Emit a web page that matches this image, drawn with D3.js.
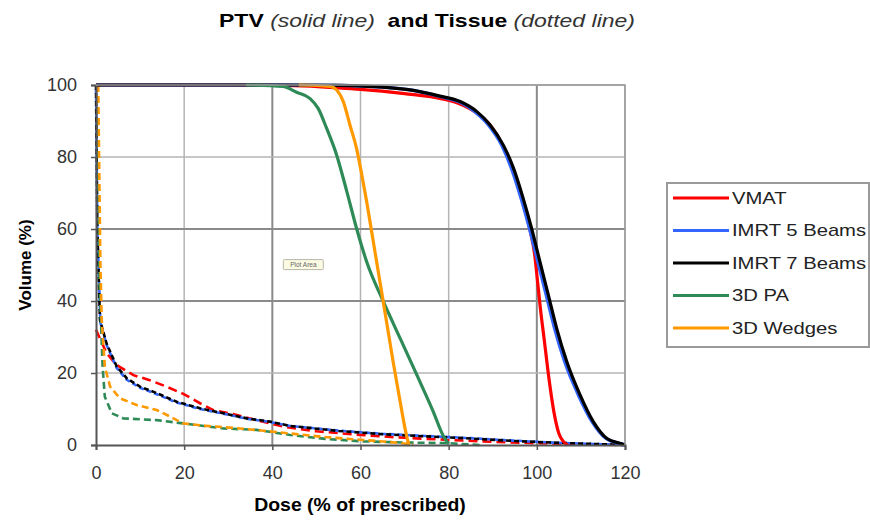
<!DOCTYPE html>
<html>
<head>
<meta charset="utf-8">
<script src="https://cdn.jsdelivr.net/npm/d3@7"></script>
<style>
  body { margin: 0; background: #fff; }
  #wrapper text { font-family: "Liberation Sans", Arial, sans-serif; }
</style>
</head>
<body>
<div id="wrapper"></div>
<script>
// data: [dose %, volume %]
const seriesNames = ["VMAT", "IMRT 5 Beams", "IMRT 7 Beams", "3D PA", "3D Wedges"]
const seriesColors = ["#ff0000", "#3366ff", "#000000", "#2e8b57", "#ff9900"]

// PTV (solid)
const vmatPtv = [[0,100],[30,100],[45,99.8],[55,99.2],[60,98.8],[70,97.6],[78,96.3],[82,95],[86,92.5],[89.4,88.9],[92.2,83.3],[94.5,77],[96.6,68.5],[98.4,60],[99.5,53],[100.2,45],[100.8,38],[101.7,29],[102.8,18],[103.9,9],[105,3.2],[106,1],[107,0]]
const imrt5Ptv = [[0,100],[45,100],[55,99.9],[65,99.4],[72,98.5],[78,96.8],[82.4,95.3],[86,92.5],[89,88.9],[92,83.3],[94.2,76.9],[96.4,68.5],[98.3,60.2],[100.2,50.9],[102.1,41.7],[104,32.4],[106.3,23.1],[109.4,13.9],[112.5,6.5],[115.7,1.8],[118.8,0.4],[120,0]]
const imrt7Ptv = [[0,100],[45,100],[55,99.9],[65,99.4],[72,98.5],[78,96.9],[82.6,95.4],[86.4,92.6],[89.4,88.9],[92.4,83.3],[94.7,76.9],[96.9,68.5],[98.8,60.2],[100.7,50.9],[102.6,41.7],[104.5,32.4],[106.8,23.1],[109.8,13.9],[112.8,6.5],[115.9,1.8],[119,0.4],[120,0]]
const paPtv = [[34,100],[42.4,99.6],[45.5,98],[48.5,96.3],[50.4,93.5],[52.3,88],[54.6,80.5],[56.9,70.4],[59.1,60.2],[61.4,50.9],[65.2,39.8],[69,29.6],[72.8,19.4],[76.5,9.3],[78.8,2.5],[80,0.3]]
const wedgesPtv = [[46,100],[53.1,99.6],[54.6,98.6],[56.1,95.4],[57.6,88.9],[59.1,82.4],[60.3,75],[61.4,67.6],[62.9,56.5],[64.4,45.4],[65.9,34.3],[67.4,23.1],[69,12],[70.1,4.6],[70.6,1.8],[71,0]]

// Tissue (dotted)
const vmatTissue = [[0,32],[2.4,25.5],[4.7,22.2],[8.5,19.4],[12.2,18],[16,16.2],[19.8,14.2],[23.6,11.6],[26.6,9.7],[31.1,8.6],[36.4,6.9],[42.5,5.1],[50,3.8],[60,2.8],[70,2],[80,1.4],[90,0.9],[100,0.5],[110,0.2],[120,0]]
const imrt5Tissue = [[0,100],[0.3,60],[1,34],[2.4,27.8],[4.7,21.4],[7,18.1],[10,15.9],[13.8,14.1],[18.3,11.8],[23.6,10],[28.9,8.7],[34.2,7.3],[39.5,6.4],[44,5.3],[55,4],[65,3.1],[75,2.5],[85,1.9],[95,1.2],[105,0.6],[115,0.2],[120,0]]
const imrt7Tissue = [[0,100],[0.3,60],[0.9,34.7],[2.4,28.2],[4.7,21.8],[7,18.5],[10,16.2],[13.8,14.4],[18.3,12],[23.6,10.2],[28.9,8.8],[34.2,7.4],[39.5,6.5],[44,5.3],[55,3.9],[65,3],[75,2.4],[85,1.8],[95,1.1],[105,0.6],[115,0.2],[120,0]]
const paTissue = [[0.3,100],[0.8,45],[1.5,21.8],[2,13.4],[3.6,8.8],[6.2,7.4],[13.8,6.9],[19.8,6],[28.9,4.6],[36.4,4.2],[44,2.8],[52,1.7],[60.6,1],[70,0.7],[80,0.5],[87,0]]
const wedgesTissue = [[0.5,100],[1,50],[1.3,34.7],[2,21.8],[3.2,16.2],[5.4,13],[9.2,11.1],[13.8,9.7],[16.8,7.9],[19.8,6],[25.1,5.3],[32.7,4.6],[40.2,3.7],[44,3.2],[52,2.2],[60.6,1.4],[66,0.9],[70,0.4],[72,0]]

const ptvData = [vmatPtv, imrt5Ptv, imrt7Ptv, paPtv, wedgesPtv]
const tissueData = [vmatTissue, imrt5Tissue, imrt7Tissue, paTissue, wedgesTissue]
const tissueDashes = ["9,5", "5,3", "5,3", "7,4", "7,4"]

const xTicks = [0, 20, 40, 60, 80, 100, 120]
const yTicks = [0, 20, 40, 60, 80, 100]

function drawChart() {

    // 1. Dimensions
    let dimensions = {
        width: 870,
        height: 520,
        margin: { top: 85, right: 245, bottom: 75, left: 96 },
    }
    dimensions.boundedWidth = dimensions.width - dimensions.margin.left - dimensions.margin.right
    dimensions.boundedHeight = dimensions.height - dimensions.margin.top - dimensions.margin.bottom

    const wrapper = d3.select("#wrapper")
        .append("svg")
        .attr("width", dimensions.width)
        .attr("height", dimensions.height)

    const bounds = wrapper.append("g")
        .attr("transform", `translate(${dimensions.margin.left},${dimensions.margin.top})`)

    // 2. Scales
    const xScale = d3.scaleLinear()
        .domain([0, 120])
        .range([0, dimensions.boundedWidth])
    const yScale = d3.scaleLinear()
        .domain([0, 100])
        .range([dimensions.boundedHeight, 0])

    // 3. Gridlines (the picture has some lines darker than others)
    const darkX = [40, 100], darkY = [40, 60]
    bounds.append("g").selectAll("line")
        .data(xTicks.slice(1))
        .join("line")
        .attr("x1", d => xScale(d)).attr("x2", d => xScale(d))
        .attr("y1", 0).attr("y2", dimensions.boundedHeight)
        .attr("stroke", d => darkX.includes(d) ? "#8a8a8a" : "#b4b4b4")
        .attr("stroke-width", d => darkX.includes(d) ? 2 : 1.5)
    bounds.append("g").selectAll("line")
        .data(yTicks.slice(1))
        .join("line")
        .attr("x1", 0).attr("x2", dimensions.boundedWidth)
        .attr("y1", d => yScale(d)).attr("y2", d => yScale(d))
        .attr("stroke", d => darkY.includes(d) ? "#8a8a8a" : "#b4b4b4")
        .attr("stroke-width", d => darkY.includes(d) ? 2 : 1.5)

    // "Plot Area" hover tag
    const tag = bounds.append("g")
        .attr("transform", `translate(${xScale(42.5)},${yScale(51.5)})`)
    tag.append("rect")
        .attr("width", 40).attr("height", 10)
        .attr("fill", "#fbfbe4").attr("stroke", "#b8b8a8").attr("rx", 1)
    tag.append("text")
        .attr("x", 20).attr("y", 7.5)
        .attr("text-anchor", "middle")
        .style("font-size", "6.5px").attr("fill", "#666")
        .text("Plot Area")

    // 4. Lines
    const lineGen = d3.line()
        .x(d => xScale(d[0]))
        .y(d => yScale(d[1]))

    const lines = bounds.append("g")
    tissueData.forEach((data, i) => {
        lines.append("path")
            .attr("d", lineGen.curve(d3.curveLinear)(data))
            .attr("fill", "none")
            .attr("stroke", seriesColors[i])
            .attr("stroke-width", 2.6)
            .attr("stroke-dasharray", tissueDashes[i])
            .attr("stroke-dashoffset", i == 1 ? 4 : 0)
    })
    ptvData.forEach((data, i) => {
        lines.append("path")
            .attr("d", lineGen.curve(d3.curveMonotoneX)(data))
            .attr("fill", "none")
            .attr("stroke", seriesColors[i])
            .attr("stroke-width", 3.2)
            .attr("stroke-linejoin", "round")
    })

    // 5. Axes
    const xAxis = bounds.append("g")
        .attr("transform", `translate(0,${dimensions.boundedHeight})`)
        .call(d3.axisBottom(xScale).tickValues(xTicks).tickSize(5).tickPadding(16))
    const yAxis = bounds.append("g")
        .call(d3.axisLeft(yScale).tickValues(yTicks).tickSize(5).tickPadding(14))

    ;[xAxis, yAxis].forEach(ax => {
        ax.select(".domain").attr("stroke", "#555").attr("stroke-width", 2)
        ax.selectAll(".tick line").attr("stroke", "#555").attr("stroke-width", 1.5)
        ax.selectAll(".tick text")
            .attr("fill", "#333")
            .style("font-size", "18px")
            .style("font-family", "'Liberation Sans', Arial, sans-serif")
    })
    // border on top and right
    bounds.append("path")
        .attr("d", `M0,0H${dimensions.boundedWidth}V${dimensions.boundedHeight}`)
        .attr("fill", "none")
        .attr("stroke", "#9a9a9a")
        .attr("stroke-width", 1.5)

    // axis labels
    wrapper.append("text")
        .attr("transform", `translate(31,${dimensions.margin.top + dimensions.boundedHeight / 2}) rotate(-90)`)
        .attr("text-anchor", "middle")
        .style("font-size", "17px").style("font-weight", "bold")
        .text("Volume (%)")

    wrapper.append("g")
        .attr("transform", `translate(360,511) scale(1.08,1)`)
        .append("text")
        .attr("text-anchor", "middle")
        .style("font-size", "18px").style("font-weight", "bold")
        .text("Dose (% of prescribed)")

    // title
    const title = wrapper.append("g")
        .attr("transform", "translate(427,27) scale(1.21,1)")
        .append("text")
        .attr("text-anchor", "middle")
        .style("font-size", "19px")
        .style("white-space", "pre")
    title.append("tspan").style("font-weight", "bold").text("PTV ")
    title.append("tspan").style("font-style", "italic").attr("fill", "#333").text("(solid line)")
    title.append("tspan").style("font-weight", "bold").text("  and Tissue ")
    title.append("tspan").style("font-style", "italic").attr("fill", "#333").text("(dotted line)")

    // 6. Legend
    const legend = wrapper.append("g")
        .attr("transform", "translate(667,183)")
    legend.append("rect")
        .attr("width", 202).attr("height", 164)
        .attr("fill", "#fff")
        .attr("stroke", "#9a9a9a")
        .attr("stroke-width", 2)
    const items = legend.selectAll(".legend-item")
        .data(seriesNames)
        .join("g")
        .attr("class", "legend-item")
        .attr("transform", (d, i) => `translate(0,${15 + i * 32.5})`)
    items.append("line")
        .attr("x1", 6).attr("x2", 62)
        .attr("stroke", (d, i) => seriesColors[i])
        .attr("stroke-width", 3)
    items.append("g")
        .attr("transform", "translate(65,0) scale(1.19,1)")
        .append("text")
        .attr("dy", "0.35em")
        .attr("fill", "#222")
        .style("font-size", "17px")
        .text(d => d)
}

drawChart()
</script>
</body>
</html>
